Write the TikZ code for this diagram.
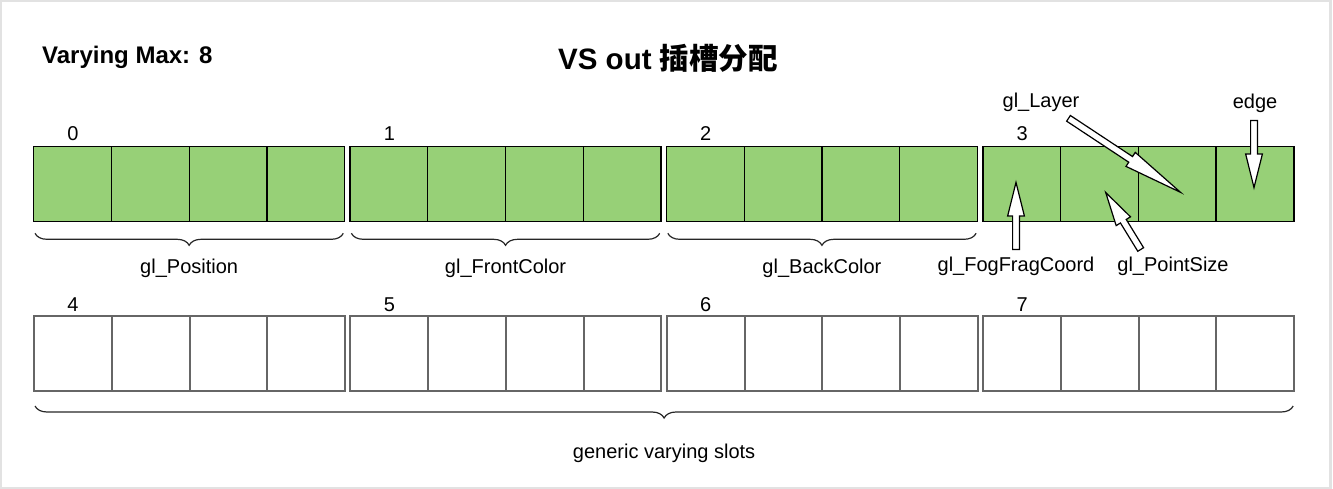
\documentclass[tikz,border=0pt]{standalone}
\usepackage{fontspec}
\setmainfont{Liberation Sans}
\newfontfamily\cjk{Noto Sans CJK SC}
\usetikzlibrary{shapes.arrows,decorations.pathreplacing,calc}
\definecolor{slotgreen}{HTML}{97D077}
\definecolor{slotgray}{HTML}{666666}
\definecolor{framegray}{HTML}{E2E2E2}
\tikzstyle{cell}=[draw=black, fill=slotgreen, line width=1.3pt, minimum width=77.75pt, minimum height=75pt, inner sep=0pt, anchor=north west]
\tikzstyle{freecell}=[cell, draw=slotgray, fill=white, line width=2pt]
\tikzstyle{brace}=[decorate, decoration={brace, mirror, amplitude=12pt}, line width=1.2pt, draw=black!85]
\tikzstyle{lbl}=[font=\fontsize{20}{24}\selectfont, inner sep=1pt]
\tikzstyle{hollow}=[single arrow, draw=black, fill=white, line width=1.2pt, inner xsep=0pt, inner ysep=2.8pt, single arrow head extend=5pt, anchor=tail]
% block arrow from #3 to #4, tip angle #1
\newcommand{\hollowarrow}[4][28]{%
 \path let \p1=(#3), \p2=(#4), \n1={atan2(\y2-\y1,\x2-\x1)}, \n2={veclen(\x2-\x1,\y2-\y1)} in
  node[hollow, single arrow tip angle=#1, minimum height=\n2, rotate=\n1] (#2) at (#3) {};}
\begin{document}
\begin{tikzpicture}[x=1pt, y=-1pt]
\useasboundingbox (0,0) rectangle (1333,489);
\draw[framegray, line width=2.5pt] (1.2,1.2) rectangle (1330.5,487.8);

\node[font=\fontsize{24}{28}\selectfont\bfseries, anchor=west, inner sep=0pt] (vmax) at (42,57) {Varying Max: 8};
\node[font=\fontsize{29.5}{34}\selectfont\bfseries, inner sep=0pt] (title) at (668,58) {VS out {\cjk 插槽分配}};

% slots: 4 groups of 4 components
\foreach \g in {0,...,3} {
 \foreach \k in {1,...,4} {
  \node[cell] (t\g-\k) at (33+316.4*\g+77.75*\k-77.75, 146) {};
  \node[freecell] (b\g-\k) at (33+316.4*\g+77.75*\k-77.75, 315) {};
 }
 \pgfmathtruncatemacro\m{\g+4}
 \node[lbl] (tn\g) at (73+316.4*\g, 134) {\g};
 \node[lbl] (bn\g) at (73+316.4*\g, 305) {\m};
}

\foreach \g/\name in {0/gl\_Position, 1/gl\_FrontColor, 2/gl\_BackColor} {
 \draw[brace] ([xshift=2pt,yshift=-11pt]t\g-1.south west) -- ([xshift=-2pt,yshift=-11pt]t\g-4.south east)
   node[lbl, midway, below=24pt] (bl\g) {\name};
}
\draw[brace] ([xshift=2pt,yshift=-14pt]b0-1.south west) -- ([xshift=-2pt,yshift=-14pt]b3-4.south east)
  node[lbl, midway, below=36pt] (generic) {generic varying slots};

% builtin varyings in slot 3
\node[lbl] (layer) at (1041,102) {gl\_Layer};
\node[lbl] (edge) at (1255,103) {edge};
\node[lbl] (fog) at (1016,266) {gl\_FogFragCoord};
\node[lbl] (psize) at (1173,266) {gl\_PointSize};
\coordinate (layer tail) at (1068,118);
\coordinate (layer tip) at (1180,192);
\coordinate (edge tail) at (1254,120);
\coordinate (edge tip) at (1254,187);
\coordinate (fog tail) at (1016,250);
\coordinate (fog tip) at (1016,183);
\coordinate (psize tail) at (1141,250);
\coordinate (psize tip) at (1106,193);
\hollowarrow[16]{alayer}{layer tail}{layer tip}
\hollowarrow{aedge}{edge tail}{edge tip}
\hollowarrow{afog}{fog tail}{fog tip}
\hollowarrow{apsize}{psize tail}{psize tip}
\end{tikzpicture}
\end{document}
